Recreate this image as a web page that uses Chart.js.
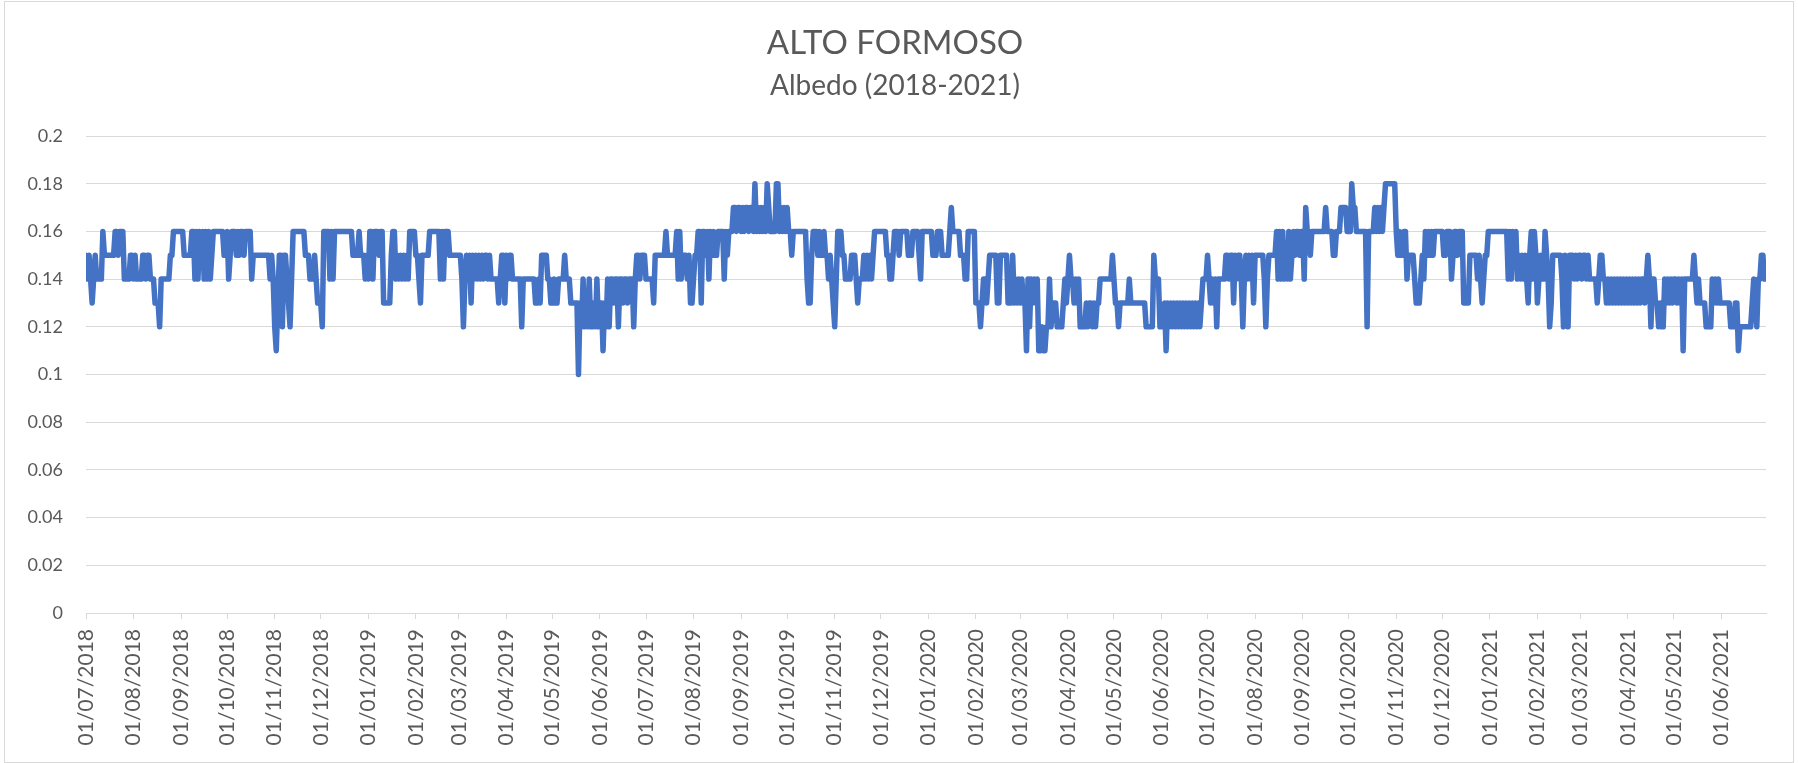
<!DOCTYPE html>
<html>
<head>
<meta charset="utf-8">
<title>Alto Formoso - Albedo (2018-2021)</title>
<script src="https://cdn.jsdelivr.net/npm/chart.js@4.4.1/dist/chart.umd.min.js"></script>
<style>
  html, body { margin: 0; padding: 0; background: #fff; }
  #frame { position: absolute; left: 4px; top: 1px; width: 1790px; height: 762px;
           border: 1px solid #d9d9d9; box-sizing: border-box; }
  #wrap { position: absolute; left: 0; top: 0; width: 1798px; height: 763px; }
</style>
</head>
<body>
<div id="frame"></div>
<div id="wrap"><canvas id="albedoChart" width="1798" height="763"></canvas></div>
<script>
/********** DATA **********/
// daily albedo, in hundredths, one array per half year
const START_DATE = '01/07/2018';

const albedo2018b = [
  15,14,15,14,13,14,15,14,14,14, 14,16,15,15,15,15,15,15,15,16,
  16,15,16,16,16,14,14,14,14,15, 15,14,15,14,14,14,14,15,15,14,
  15,15,14,14,14,13,13,13,12,14, 14,14,14,14,14,15,15,16,16,16,
  16,16,16,16,15,15,15,15,15,16, 16,14,16,14,16,15,16,14,16,14,
  16,14,15,16,16,16,16,16,16,16, 15,15,16,14,15,16,16,16,15,16,
  15,16,16,15,16,16,16,16,14,15, 15,15,15,15,15,15,15,15,15,15,
  14,15,14,12,11,13,15,15,12,15, 15,14,13,12,14,16,16,16,16,16,
  16,16,16,15,15,15,14,14,14,15, 14,13,13,13,12,16,16,16,16,14,
  16,14,16,16,16,16,16,16,16,16, 16,16,16,16,15,15,15,15,16,15,
  15,15,14,15
];

const albedo2019a = [
  14,16,16,14,16,16,16,15,16,16, 13,13,13,13,13,15,16,16,14,15,
  14,15,14,15,14,15,14,16,16,16, 16,15,15,14,13,15,15,15,15,15,
  16,16,16,16,16,16,16,14,16,14, 16,16,16,15,15,15,15,15,15,15,
  15,14,12,14,15,14,15,13,15,14, 15,14,15,14,15,14,15,15,14,15,
  14,14,14,14,14,13,14,15,15,13, 15,14,15,15,14,14,14,14,14,14,
  12,14,14,14,14,14,14,14,14,13, 13,14,13,15,15,15,15,14,14,13,
  13,14,13,13,14,14,14,14,15,14, 14,14,13,13,13,13,13,10,13,12,
  14,12,13,12,14,12,12,13,12,14, 12,13,13,11,13,12,14,12,14,14,
  13,14,14,12,14,14,13,14,14,13, 14,14,14,12,14,15,15,14,15,15,
  15
];

const albedo2019b = [
  14,14,14,14,14,13,15,15,15,15, 15,15,15,16,15,15,15,15,15,15,
  16,14,16,14,15,15,15,14,15,13, 13,14,15,15,16,16,13,16,16,15,
  16,14,16,15,16,15,15,16,16,16, 16,14,16,15,16,16,16,17,17,16,
  17,17,16,17,16,17,17,16,17,17, 16,18,16,17,16,17,16,17,16,18,
  17,16,16,16,16,18,18,16,17,16, 17,16,17,16,16,15,16,16,16,16,
  16,16,16,16,16,14,13,13,15,16, 16,16,15,16,15,15,16,15,15,14,
  15,14,13,12,14,16,16,16,15,15, 14,14,14,14,15,15,15,14,13,14,
  14,14,15,14,15,14,15,14,15,16, 16,16,16,16,16,16,16,15,15,14,
  14,15,16,16,16,15,16,16,16,16, 16,15,15,15,16,16,16,16,15,14,
  16,16,16,16
];

const albedo2020a = [
  16,16,16,15,15,15,16,16,16,15, 15,15,15,15,16,17,16,16,16,16,
  16,15,15,15,14,14,16,16,16,16, 16,13,13,13,12,13,14,14,13,14,
  15,15,15,15,15,13,13,15,15,15, 15,15,13,13,13,15,13,14,13,14,
  13,14,13,13,11,14,12,14,13,14, 13,14,11,11,12,11,11,12,12,14,
  12,13,13,13,12,12,12,12,13,14, 13,14,15,14,14,13,14,13,14,12,
  12,12,12,13,12,13,13,12,13,12, 13,13,14,14,14,14,14,14,14,14,
  15,14,13,13,12,13,13,13,13,13, 13,14,13,13,13,13,13,13,13,13,
  13,13,12,12,12,12,12,15,14,14, 14,12,12,12,13,11,13,12,13,12,
  13,12,13,12,13,12,13,12,13,12, 13,12,13,12,13,12,13,12,13,14,
  14,14
];

const albedo2020b = [
  15,14,13,14,13,14,12,14,14,14, 14,14,15,15,14,15,15,13,15,14,
  15,15,14,12,14,15,14,15,14,15, 13,15,15,15,15,15,15,14,12,14,
  15,15,15,15,15,16,14,16,14,16, 14,15,14,16,14,15,16,15,16,16,
  15,16,16,14,17,16,16,15,16,16, 16,16,16,16,16,16,16,17,16,16,
  16,16,15,15,16,16,16,17,17,17, 17,16,16,16,18,17,17,16,16,16,
  16,16,16,16,12,16,16,16,16,17, 16,17,16,17,16,17,18,18,18,18,
  18,18,18,16,15,16,15,15,16,16, 14,15,15,15,15,14,13,13,13,14,
  15,14,16,15,16,15,16,15,16,16, 16,16,16,16,15,15,16,16,16,14,
  15,16,16,15,16,16,16,13,13,13, 13,15,15,15,15,15,14,15,14,13,
  14,15,15,16
];

const albedo2021a = [
  16,16,16,16,16,16,16,16,16,16, 16,16,14,16,14,16,15,16,14,15,
  14,15,14,15,14,13,15,16,14,16, 15,13,14,15,14,14,16,15,14,12,
  13,15,15,15,15,15,15,14,12,15, 14,12,15,15,15,14,15,14,15,15,
  14,15,15,14,15,14,14,14,14,14, 13,14,15,15,14,14,13,14,13,14,
  13,14,13,14,13,14,13,14,13,14, 13,14,13,14,13,14,13,14,13,14,
  14,13,14,15,14,12,14,14,13,13, 12,13,12,12,14,13,14,13,14,13,
  14,14,13,14,13,14,11,14,14,14, 14,14,14,15,14,13,14,13,13,13,
  13,12,12,12,12,14,13,14,13,14, 13,13,13,13,13,13,13,12,12,12,
  13,13,11,12,12,12,12,12,12,12, 12,13,14,13,12,14,14,15,15,14,
  14
];

const monthTicks = [
  '01/07/2018','01/08/2018','01/09/2018','01/10/2018','01/11/2018','01/12/2018',
  '01/01/2019','01/02/2019','01/03/2019','01/04/2019','01/05/2019','01/06/2019',
  '01/07/2019','01/08/2019','01/09/2019','01/10/2019','01/11/2019','01/12/2019',
  '01/01/2020','01/02/2020','01/03/2020','01/04/2020','01/05/2020','01/06/2020',
  '01/07/2020','01/08/2020','01/09/2020','01/10/2020','01/11/2020','01/12/2020',
  '01/01/2021','01/02/2021','01/03/2021','01/04/2021','01/05/2021','01/06/2021'
];

/********** HELPERS **********/
function toUTC(str) {
  const [d, m, y] = str.split('/').map(Number);
  return Date.UTC(y, m - 1, d);
}

const DAY_MS = 86400000;
const t0 = toUTC(START_DATE);
const tickDays = monthTicks.map(s => Math.round((toUTC(s) - t0) / DAY_MS));

const albedo = [].concat(albedo2018b, albedo2019a, albedo2019b, albedo2020a, albedo2020b, albedo2021a);
const points = albedo.map((v, i) => ({ x: i, y: v / 100 }));

/********** CHART **********/
const FONT = 'Lato, "Open Sans", sans-serif';
const TEXT = '#595959';
const GRID = '#d9d9d9';

new Chart(document.getElementById('albedoChart'), {
  type: 'line',
  data: {
    datasets: [{
      label: 'Albedo',
      data: points,
      borderColor: '#4472C4',
      borderWidth: 5.5,
      borderJoinStyle: 'round',
      borderCapStyle: 'round',
      pointRadius: 0,
      tension: 0,
      fill: false
    }]
  },
  options: {
    responsive: false,
    animation: false,
    // left/right padding keeps the titles centred on the frame
    layout: { padding: { left: 24, right: 32, top: 0, bottom: 0 } },
    plugins: {
      legend: { display: false },
      tooltip: { enabled: false },
      title: {
        display: true,
        text: 'ALTO FORMOSO',
        color: TEXT,
        font: { family: FONT, size: 33, weight: 'normal' },
        padding: { top: 23.2, bottom: 0 }
      },
      subtitle: {
        display: true,
        text: 'Albedo (2018-2021)',
        color: TEXT,
        font: { family: FONT, size: 28, weight: 'normal' },
        padding: { top: 6.4, bottom: 33.2 }
      }
    },
    scales: {
      x: {
        type: 'linear',
        min: 0,
        max: albedo.length - 1,
        afterBuildTicks: s => { s.ticks = tickDays.map(v => ({ value: v })); },
        afterFit: s => { s.height = 150; },
        grid: { drawOnChartArea: false, drawTicks: true, tickLength: 6, color: GRID },
        border: { color: GRID, width: 1 },
        ticks: {
          autoSkip: false,
          minRotation: 90,
          maxRotation: 90,
          padding: 10,
          color: TEXT,
          font: { family: FONT, size: 21 },
          callback: (v, i) => monthTicks[i]
        }
      },
      y: {
        min: 0,
        max: 0.2,
        afterFit: s => { s.width = 62; },
        grid: { color: GRID, drawTicks: false },
        border: { display: false },
        ticks: {
          stepSize: 0.02,
          padding: 23,
          color: TEXT,
          font: { family: FONT, size: 18 },
          callback: v => String(+v.toFixed(2))
        }
      }
    }
  }
});
</script>
</body>
</html>
